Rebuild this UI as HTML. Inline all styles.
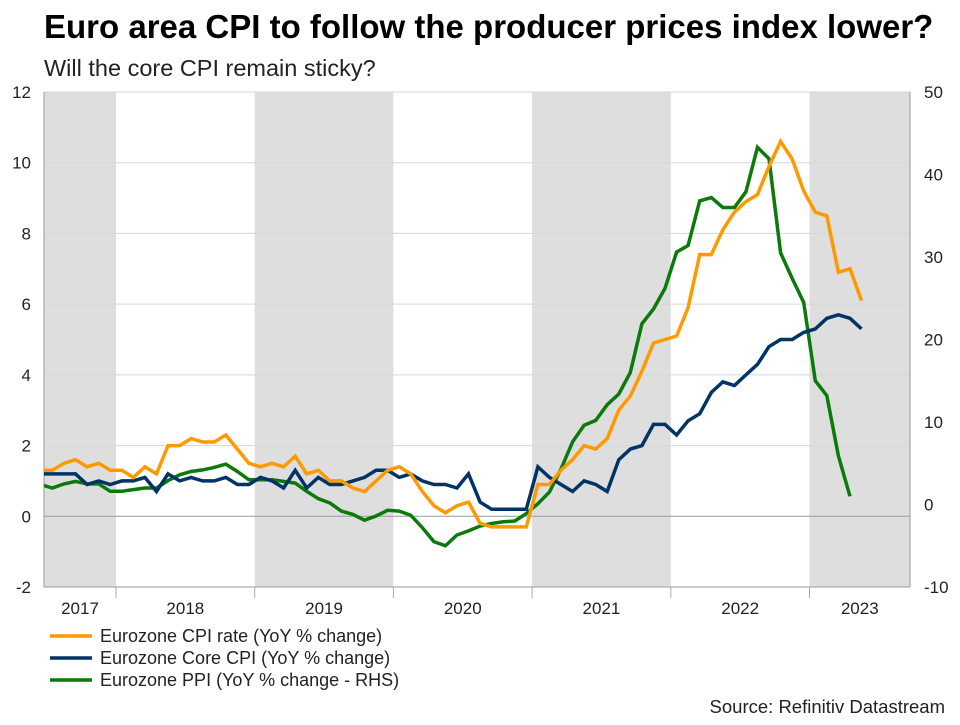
<!DOCTYPE html>
<html><head><meta charset="utf-8"><style>
body{margin:0;background:#fff;font-family:"Liberation Sans",sans-serif;}
svg text{font-family:"Liberation Sans",sans-serif;}
</style></head><body>
<svg id="chart" width="960" height="720" xmlns="http://www.w3.org/2000/svg">
<text x="44" y="38" font-size="33" font-weight="bold" fill="#000">Euro area CPI to follow the producer prices index lower?</text>
<text x="44" y="76" font-size="23.5" fill="#222">Will the core CPI remain sticky?</text>
<defs><clipPath id="pc"><rect x="44" y="92" width="866" height="495"/></clipPath></defs>
<g id="bands"></g><g id="grid"></g><g id="axes"></g>
<g id="lines" clip-path="url(#pc)"></g>
<g id="legend"></g>
<text x="945" y="713" font-size="18.5" text-anchor="end" fill="#222">Source: Refinitiv Datastream</text>
</svg>
<script>
const startMonth = 5; // Jun 2017 (0 = Jan 2017)
const cpi = [1.3,1.3,1.5,1.6,1.4,1.5,1.3,1.3,1.1,1.4,1.2,2.0,2.0,2.2,2.1,2.1,2.3,1.9,1.5,1.4,1.5,1.4,1.7,1.2,1.3,1.0,1.0,0.8,0.7,1.0,1.3,1.4,1.2,0.7,0.3,0.1,0.3,0.4,-0.2,-0.3,-0.3,-0.3,-0.3,0.9,0.9,1.3,1.6,2.0,1.9,2.2,3.0,3.4,4.1,4.9,5.0,5.1,5.9,7.4,7.4,8.1,8.6,8.9,9.1,9.9,10.6,10.1,9.2,8.6,8.5,6.9,7.0,6.1];
const core = [1.2,1.2,1.2,1.2,0.9,1.0,0.9,1.0,1.0,1.1,0.7,1.2,1.0,1.1,1.0,1.0,1.1,0.9,0.9,1.1,1.0,0.8,1.3,0.8,1.1,0.9,0.9,1.0,1.1,1.3,1.3,1.1,1.2,1.0,0.9,0.9,0.8,1.2,0.4,0.2,0.2,0.2,0.2,1.4,1.1,0.9,0.7,1.0,0.9,0.7,1.6,1.9,2.0,2.6,2.6,2.3,2.7,2.9,3.5,3.8,3.7,4.0,4.3,4.8,5.0,5.0,5.2,5.3,5.6,5.7,5.6,5.3];
const ppi = [2.4,2.0,2.5,2.8,2.5,2.5,1.6,1.6,1.8,2.0,2.0,2.9,3.6,4.0,4.2,4.5,4.9,4.0,3.0,3.0,3.0,2.8,2.6,1.6,0.7,0.2,-0.8,-1.2,-1.9,-1.4,-0.7,-0.8,-1.3,-2.8,-4.5,-5.0,-3.7,-3.2,-2.6,-2.3,-2.1,-2.0,-1.1,0.1,1.5,4.3,7.6,9.6,10.2,12.1,13.4,16.0,21.9,23.7,26.2,30.6,31.4,36.8,37.2,36.0,36.0,37.9,43.3,41.9,30.5,27.4,24.5,15.0,13.2,5.9,1.0];
const leftTicks = [-2,0,2,4,6,8,10,12];
const rightTicks = [-10,0,10,20,30,40,50];
const years = ["2017","2018","2019","2020","2021","2022","2023"];
const NS="http://www.w3.org/2000/svg";
const X0=44,X1=910,Y0=92,Y1=587,MW=138.7/12;
const xm = m => 116 + (m-12+0.5)*MW;
const yL = v => Y1 - (v+2)/14*(Y1-Y0);
const yR = v => Y1 - (v+10)/60*(Y1-Y0);
function mk(tag,attrs,parent,txt){const e=document.createElementNS(NS,tag);for(const k in attrs)e.setAttribute(k,attrs[k]);if(txt!==undefined)e.textContent=txt;document.getElementById(parent).appendChild(e);return e;}
years.forEach((y,i)=>{
  const a=Math.max(X0,116+(i-1)*138.7), b=Math.min(X1,116+i*138.7);
  if(i%2===0){const r=mk('rect',{x:a,y:Y0,width:b-a,height:Y1-Y0,fill:'#dedede'},'bands');
  
  }
  const t=mk('text',{x:(a+b)/2,y:614,'font-size':17,'text-anchor':'middle',fill:'#222'},'axes',y);
  
  
  if(i>0){const s=116+(i-1)*138.7;mk('line',{x1:s,x2:s,y1:Y1,y2:598,stroke:'#aaa','stroke-width':1},'axes');}
});
leftTicks.forEach(v=>{
  const y=yL(v);
  if(v!==-2){const g=mk('line',{x1:X0,x2:X1,y1:y,y2:y,stroke:v===0?'#999':'#d6d6d6','stroke-width':1},'grid');
  
  }
  const t=mk('text',{x:31,y:y+6,'font-size':17,'text-anchor':'end',fill:'#222'},'axes',v);
  
  
});
rightTicks.forEach(v=>{
  const t=mk('text',{x:924,y:yR(v)+6,'font-size':17,fill:'#222'},'axes',v);
  
  
});
mk('line',{x1:X0,x2:X0,y1:Y0,y2:Y1,stroke:'#999'},'axes');
mk('line',{x1:X1,x2:X1,y1:Y0,y2:Y1,stroke:'#999'},'axes');
mk('line',{x1:X0,x2:X1,y1:Y1,y2:Y1,stroke:'#999'},'axes');
function series(arr,yf,col,name){
  const d=arr.map((v,i)=>(i?'L':'M')+xm(startMonth+i).toFixed(1)+','+yf(v).toFixed(1)).join('');
  const p=mk('path',{d:d,fill:'none',stroke:col,'stroke-width':3.5,'stroke-linejoin':'miter'},'lines');
  
  
}
series(ppi,yR,'#0a7a0a','ppi-line');
series(core,yL,'#003366','core-cpi-line');
series(cpi,yL,'#ff9900','cpi-line');
const leg=[['Eurozone CPI rate (YoY % change)','#ff9900'],['Eurozone Core CPI (YoY % change)','#003366'],['Eurozone PPI (YoY % change - RHS)','#0a7a0a']];
leg.forEach((l,i)=>{
  const y=636+i*22;
  const ln=mk('line',{x1:50,x2:92,y1:y,y2:y,stroke:l[1],'stroke-width':3.5},'legend');
  
  
  const t=mk('text',{x:100,y:y+6,'font-size':18,fill:'#222'},'legend',l[0]);
  
  
});
</script>
</body></html>
